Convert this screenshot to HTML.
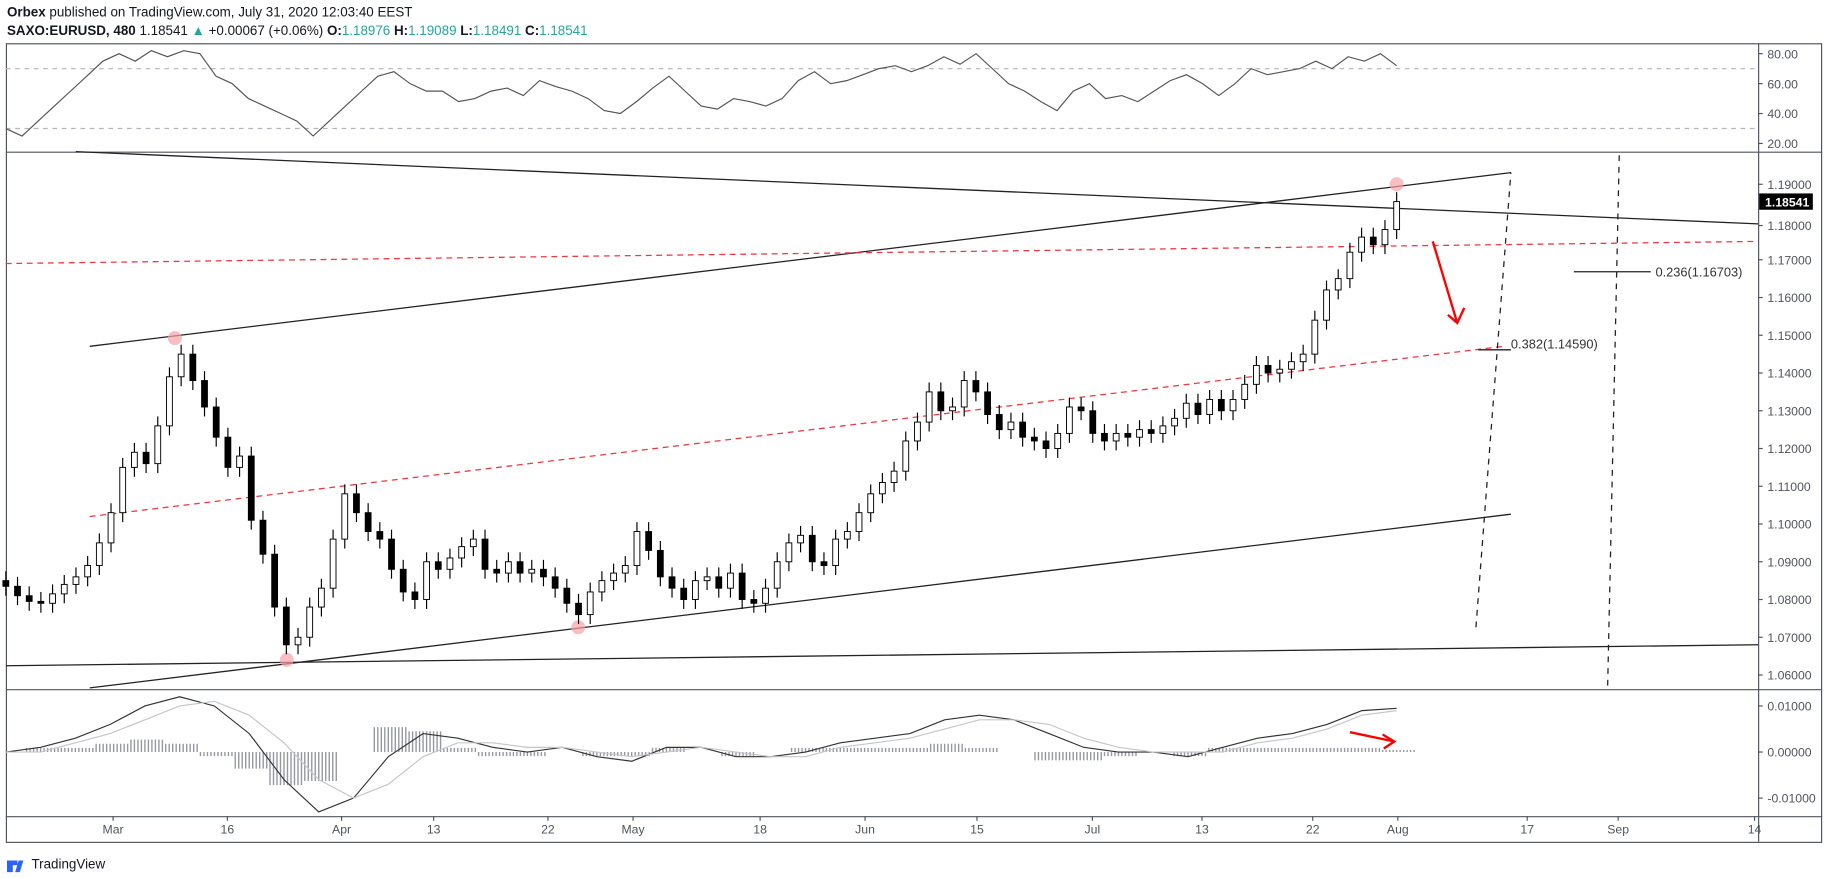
<!DOCTYPE html>
<html><head><meta charset="utf-8"><style>
html,body{margin:0;padding:0;background:#fff;}
svg{display:block;font-family:"Liberation Sans",sans-serif;}
</style></head><body>
<svg id="c" width="1828" height="878" viewBox="0 0 1568 753">
<text x="6" y="14" font-size="11.5" fill="#131722"><tspan font-weight="bold">Orbex</tspan> published on TradingView.com, July 31, 2020 12:03:40 EEST</text>
<text x="6" y="30" font-size="11.5" fill="#131722"><tspan font-weight="bold">SAXO:EURUSD, 480</tspan> 1.18541 <tspan fill="#26a69a">▲</tspan> +0.00067 (+0.06%) <tspan font-weight="bold">O:</tspan><tspan fill="#26a69a">1.18976</tspan> <tspan font-weight="bold">H:</tspan><tspan fill="#26a69a">1.19089</tspan> <tspan font-weight="bold">L:</tspan><tspan fill="#26a69a">1.18491</tspan> <tspan font-weight="bold">C:</tspan><tspan fill="#26a69a">1.18541</tspan></text>
<g id="frame">
<rect x="5.5" y="37.5" width="1557" height="685" fill="none" stroke="#50535e" stroke-width="1"/>
<line x1="1508.5" y1="37" x2="1508.5" y2="722" stroke="#50535e"/>
<line x1="5" y1="130.5" x2="1563" y2="130.5" stroke="#50535e"/>
<line x1="5" y1="591.5" x2="1563" y2="591.5" stroke="#50535e"/>
<line x1="5" y1="700.5" x2="1563" y2="700.5" stroke="#50535e"/>
</g>
<g id="rsiG"></g><g id="mainG"></g><g id="macdG"></g><g id="axesG"></g>
<g>
<path d="M6 738 h9 v4 h-4 v6 h-5z M16 738 l4 0 -3 10 -4 0z" fill="#2962ff"/>
<text x="27" y="745" font-size="11.5" fill="#131722">TradingView</text>
</g>
</svg>
<script>
const NS="http://www.w3.org/2000/svg";
function mk(tag,attrs,parent){const e=document.createElementNS(NS,tag);for(const k in attrs)e.setAttribute(k,attrs[k]);parent.appendChild(e);return e;}
const closes=[1.0835,1.0810,1.0795,1.0790,1.0815,1.0840,1.0860,1.0890,1.0950,1.1030,1.1150,1.1190,1.1160,1.1260,1.1390,1.1450,1.1380,1.1310,1.1230,1.1150,1.1180,1.1010,1.0920,1.0780,1.0680,1.0700,1.0780,1.0830,1.0960,1.1080,1.1030,1.0980,1.0960,1.0880,1.0820,1.0800,1.0900,1.0880,1.0910,1.0940,1.0960,1.0880,1.0870,1.0900,1.0870,1.0880,1.0860,1.0830,1.0790,1.0760,1.0820,1.0850,1.0870,1.0890,1.0980,1.0930,1.0860,1.0830,1.0800,1.0850,1.0860,1.0830,1.0870,1.0800,1.0790,1.0830,1.0900,1.0950,1.0970,1.0900,1.0890,1.0960,1.0980,1.1030,1.1080,1.1110,1.1140,1.1220,1.1270,1.1350,1.1300,1.1310,1.1380,1.1350,1.1290,1.1250,1.1270,1.1230,1.1220,1.1200,1.1240,1.1310,1.1300,1.1240,1.1220,1.1240,1.1230,1.1250,1.1240,1.1260,1.1280,1.1320,1.1290,1.1330,1.1300,1.1330,1.1370,1.1420,1.1400,1.1410,1.1430,1.1450,1.1540,1.1620,1.1650,1.1720,1.1760,1.1740,1.1780,1.1854];
const firstOpen=1.0850;
const rsiVals=[30,25,35,45,55,65,75,80,75,82,78,82,80,65,60,50,45,40,35,25,35,45,55,65,68,60,55,55,48,50,55,57,52,62,58,55,50,42,40,48,57,65,55,45,43,50,48,45,50,62,68,60,62,66,70,72,68,72,78,73,80,70,60,55,48,42,55,60,50,52,48,55,62,66,60,52,60,70,66,68,70,75,70,78,75,80,72];
const macdVals=[0.000,0.001,0.003,0.006,0.010,0.012,0.010,0.004,-0.006,-0.013,-0.010,-0.001,0.004,0.003,0.001,0.000,0.001,-0.001,-0.002,0.001,0.001,-0.001,-0.001,0.000,0.002,0.003,0.004,0.007,0.008,0.007,0.004,0.001,0.000,0.000,-0.001,0.001,0.003,0.004,0.006,0.009,0.0095];
const signalVals=[0.000,0.000,0.002,0.004,0.007,0.010,0.011,0.008,0.002,-0.006,-0.010,-0.007,-0.001,0.002,0.002,0.001,0.001,0.000,-0.001,0.000,0.001,0.000,-0.001,-0.001,0.001,0.002,0.003,0.005,0.007,0.007,0.006,0.003,0.001,0.000,0.000,0.000,0.002,0.003,0.005,0.008,0.009];
const priceTicks=[1.19,1.18,1.17,1.16,1.15,1.14,1.13,1.12,1.11,1.10,1.09,1.08,1.07,1.06];
const rsiTicks=[80,60,40,20];
const macdTicks=[0.01,0,-0.01];
const timeLabels=["Mar","16","Apr","13","22","May","18","Jun","15","Jul","13","22","Aug","17","Sep","14"];
const timeX=[97,195,293,372,470,543,652,742,838,937,1031,1126,1199,1310,1388,1505];

const X0=5,X1=1198;
const xIdx=(i,n)=>X0+(X1-X0)*i/(n-1);
const yP=p=>158+(1.19-p)*3238;
const yR=v=>46+(80-v)*(77/60);
const yM=v=>645-v*3950;

const main=document.getElementById('mainG');
const rsiG=document.getElementById('rsiG');
const macdG=document.getElementById('macdG');
const axes=document.getElementById('axesG');

[70,30].forEach(v=>{const l=mk('line',{x1:5,x2:1508,y1:yR(v),y2:yR(v),stroke:'#b2b5be','stroke-dasharray':'4 4'},rsiG);
});
let pts=rsiVals.map((v,i)=>xIdx(i,rsiVals.length).toFixed(1)+','+yR(v).toFixed(1)).join(' ');
const rl=mk('polyline',{points:pts,fill:'none',stroke:'#555','stroke-width':1},rsiG);


function ln(x1,y1,x2,y2,st,name,dash){const l=mk('line',{x1,y1,x2,y2,stroke:st,'stroke-width':1.1},main);if(dash)l.setAttribute('stroke-dasharray',dash);
return l;}
ln(65,130,1508,192,'#222','upper-trendline');
ln(77,297,1296,148,'#222','rising-channel-top');
ln(77,590,1296,441,'#222','rising-channel-bottom');
ln(5,571,1508,553,'#222','support-line');
ln(5,226,1508,207,'#f23645','resistance-dashed','5 4');
ln(77,443,1290,297,'#f23645','channel-mid-dashed','5 4');
ln(1266,538,1296,148,'#222','projection-dashed-1','5 5');
ln(1379,588,1389,130,'#222','projection-dashed-2','5 5');
ln(1350,233,1416,233,'#222','fib-0236-line');
ln(1268,300,1296,300,'#222','fib-0382-line');
let t=mk('text',{x:1420,y:237,'font-size':11,fill:'#333'},main);t.textContent='0.236(1.16703)';

t=mk('text',{x:1296,y:299,'font-size':11,fill:'#333'},main);t.textContent='0.382(1.14590)';

[[150,290],[246,566],[496,538],[1198,158]].forEach((p,i)=>{const c=mk('circle',{cx:p[0],cy:p[1],r:6,fill:'#f7a1a8',opacity:0.7},main);
});
const ar=mk('path',{d:'M1229 207 L1250 277 M1242 270 L1250 277 L1256 264',stroke:'#f00','stroke-width':2,fill:'none'},main);


closes.forEach((c,i)=>{const o=i?closes[i-1]:firstOpen;const x=xIdx(i,closes.length);
const hi=Math.max(o,c)+0.0025, lo=Math.min(o,c)-0.0025;
const g=mk('g',{},main);

mk('line',{x1:x,x2:x,y1:yP(hi),y2:yP(lo),stroke:'#000'},g);
const yt=yP(Math.max(o,c)),yb=yP(Math.min(o,c));
mk('rect',{x:x-2.5,y:yt,width:5,height:Math.max(1,yb-yt),fill:c>=o?'#fff':'#000',stroke:'#000','stroke-width':0.8},g);
});

const n=macdVals.length;
macdVals.forEach((v,i)=>{const h=v-signalVals[i];const x=xIdx(i,n);
for(let k=-4;k<=5;k++){const b=mk('line',{x1:x+k*3,x2:x+k*3,y1:yM(0),y2:yM(h*0.9),stroke:'#9598a1','stroke-width':1.2},macdG);
}});
const ml=mk('polyline',{points:macdVals.map((v,i)=>xIdx(i,n).toFixed(1)+','+yM(v).toFixed(1)).join(' '),fill:'none',stroke:'#333','stroke-width':1},macdG);

const sl=mk('polyline',{points:signalVals.map((v,i)=>xIdx(i,n).toFixed(1)+','+yM(v).toFixed(1)).join(' '),fill:'none',stroke:'#c4c6cc','stroke-width':1},macdG);

const ma=mk('path',{d:'M1158 628 L1196 636 M1186 630 L1196 636 L1187 642',stroke:'#f00','stroke-width':2,fill:'none'},macdG);


function tick(y,label,name){mk('line',{x1:1508,x2:1512,y1:y,y2:y,stroke:'#50535e'},axes);
const tx=mk('text',{x:1516,y:y+4,'font-size':10.5,fill:'#50535e'},axes);tx.textContent=label;
}
rsiTicks.forEach(v=>tick(yR(v),v.toFixed(2),'rsi-tick-label'));
priceTicks.forEach(v=>{if(Math.abs(v-1.18)<1e-9)tick(yP(v)+3,v.toFixed(5),'price-tick-label');else tick(yP(v),v.toFixed(5),'price-tick-label');});
macdTicks.forEach(v=>tick(yM(v),v.toFixed(5),'macd-tick-label'));
const pb=mk('rect',{x:1509,y:yP(1.18541)-7,width:46,height:14,fill:'#000'},axes);

const pt=mk('text',{x:1514,y:yP(1.18541)+4,'font-size':10.5,fill:'#fff','font-weight':'bold'},axes);pt.textContent='1.18541';

timeLabels.forEach((l,i)=>{mk('line',{x1:timeX[i],x2:timeX[i],y1:700,y2:704,stroke:'#50535e'},axes);
const tx=mk('text',{x:timeX[i],y:715,'font-size':10.5,fill:'#50535e','text-anchor':'middle'},axes);tx.textContent=l;
});
</script>
</body></html>
